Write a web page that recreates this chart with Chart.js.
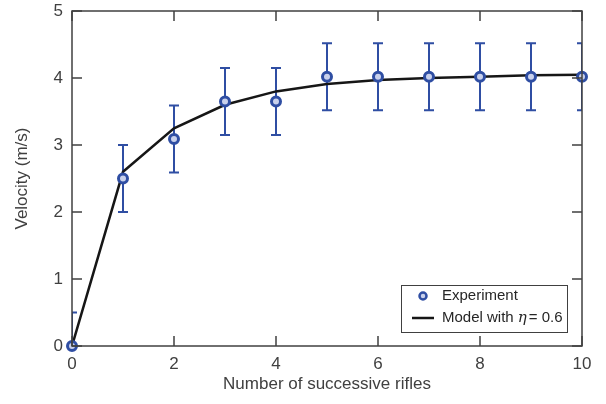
<!DOCTYPE html>
<html>
<head>
<meta charset="utf-8">
<script src="https://cdn.jsdelivr.net/npm/chart.js@4"></script>
<style>
  html, body { margin: 0; padding: 0; background: #fff; }
  #wrap { width: 606px; height: 404px; }
</style>
</head>
<body>
<div id="wrap"><canvas id="chart" width="606" height="404"></canvas></div>
<script>
const rifles = [0, 1, 2, 3, 4, 5, 6, 7, 8, 9, 10];
const velocity = [0, 2.5, 3.09, 3.65, 3.65, 4.02, 4.02, 4.02, 4.02, 4.02, 4.02];
const velocityErr = [0.5, 0.5, 0.5, 0.5, 0.5, 0.5, 0.5, 0.5, 0.5, 0.5, 0.5];
const model = [0, 2.6, 3.25, 3.6, 3.8, 3.91, 3.97, 4.0, 4.02, 4.04, 4.05];
const xTicks = [0, 2, 4, 6, 8, 10];
const yTicks = [0, 1, 2, 3, 4, 5];

const blue = '#2f4ea3';
const axisGrey = '#404040';
const FONT = '"Liberation Sans", Arial, sans-serif';

// error bars, clipped to the axes box like the original
const errorBars = {
  id: 'errorBars',
  beforeDatasetsDraw(chart) {
    const { ctx, chartArea: a, scales: { x, y } } = chart;
    ctx.save();
    ctx.beginPath();
    ctx.rect(a.left, a.top, a.right - a.left, a.bottom - a.top);
    ctx.clip();
    ctx.strokeStyle = blue;
    ctx.lineWidth = 2;
    rifles.forEach((r, i) => {
      const px = x.getPixelForValue(r);
      const lo = y.getPixelForValue(velocity[i] - velocityErr[i]);
      const hi = y.getPixelForValue(velocity[i] + velocityErr[i]);
      ctx.beginPath();
      ctx.moveTo(px, lo); ctx.lineTo(px, hi);
      ctx.moveTo(px - 5, lo); ctx.lineTo(px + 5, lo);
      ctx.moveTo(px - 5, hi); ctx.lineTo(px + 5, hi);
      ctx.stroke();
    });
    ctx.restore();
  }
};

// box around the axes with inward ticks on all sides
const frame = {
  id: 'frame',
  afterDatasetsDraw(chart) {
    const { ctx, chartArea: a, scales: { x, y } } = chart;
    const len = 10;
    ctx.save();
    ctx.strokeStyle = axisGrey;
    ctx.lineWidth = 1.5;
    ctx.strokeRect(a.left, a.top, a.right - a.left, a.bottom - a.top);
    ctx.beginPath();
    xTicks.forEach(t => {
      const px = x.getPixelForValue(t);
      ctx.moveTo(px, a.bottom); ctx.lineTo(px, a.bottom - len);
      ctx.moveTo(px, a.top); ctx.lineTo(px, a.top + len);
    });
    yTicks.forEach(t => {
      const py = y.getPixelForValue(t);
      ctx.moveTo(a.left, py); ctx.lineTo(a.left + len, py);
      ctx.moveTo(a.right, py); ctx.lineTo(a.right - len, py);
    });
    ctx.stroke();
    ctx.restore();
  }
};

const legendBox = {
  id: 'legendBox',
  afterDraw(chart) {
    const { ctx } = chart;
    const ds = chart.data.datasets;
    const bx = 401, by = 285, bw = 166, bh = 47;
    ctx.save();
    ctx.fillStyle = '#fff';
    ctx.fillRect(bx, by, bw, bh);
    ctx.strokeStyle = axisGrey;
    ctx.lineWidth = 1;
    ctx.strokeRect(bx + 0.5, by + 0.5, bw, bh);

    // experiment marker
    ctx.beginPath();
    ctx.arc(423, 296, 3.5, 0, Math.PI * 2);
    ctx.fillStyle = '#c9d1ec';
    ctx.fill();
    ctx.strokeStyle = blue;
    ctx.lineWidth = 2.5;
    ctx.stroke();

    // model line
    ctx.beginPath();
    ctx.moveTo(412, 318); ctx.lineTo(434, 318);
    ctx.strokeStyle = '#161616';
    ctx.lineWidth = 2.5;
    ctx.stroke();

    ctx.fillStyle = '#262626';
    ctx.textBaseline = 'middle';
    ctx.font = '15px ' + FONT;
    ctx.fillText(ds[0].label, 442, 296);
    const parts = ds[1].label.split('η');
    let tx = 442;
    ctx.fillText(parts[0], tx, 318);
    tx += ctx.measureText(parts[0]).width;
    ctx.font = 'italic 15px "DejaVu Serif", serif';
    ctx.fillText('η', tx, 318);
    tx += ctx.measureText('η').width + 2;
    ctx.font = '15px ' + FONT;
    ctx.fillText(parts[1], tx, 318);
    ctx.restore();
  }
};

new Chart(document.getElementById('chart'), {
  type: 'line',
  data: {
    datasets: [{
      label: 'Experiment',
      data: rifles.map((r, i) => ({ x: r, y: velocity[i] })),
      showLine: false,
      pointRadius: 4.5,
      pointBorderWidth: 3,
      pointBackgroundColor: '#c9d1ec',
      pointBorderColor: blue,
      clip: false,
      order: 0
    }, {
      label: 'Model with η= 0.6',
      data: rifles.map((r, i) => ({ x: r, y: model[i] })),
      borderColor: '#161616',
      borderWidth: 2.5,
      pointRadius: 0,
      tension: 0,
      fill: false,
      order: 1
    }]
  },
  options: {
    responsive: false,
    animation: false,
    layout: { padding: { top: 11, right: 24, left: 0, bottom: 0 } },
    plugins: { legend: { display: false }, tooltip: { enabled: false } },
    scales: {
      x: {
        type: 'linear',
        min: 0, max: 10,
        afterFit(s) { s.height = 58; s.paddingLeft = 0; s.paddingRight = 0; },
        afterBuildTicks(s) { s.ticks = xTicks.map(v => ({ value: v })); },
        grid: { display: false, drawTicks: false },
        border: { display: false },
        ticks: { padding: 8, color: axisGrey, font: { family: FONT, size: 17 } },
        title: {
          display: true, text: 'Number of successive rifles',
          color: axisGrey, font: { family: FONT, size: 17 },
          padding: { top: 0, bottom: 9 }
        }
      },
      y: {
        type: 'linear',
        min: 0, max: 5,
        afterFit(s) { s.width = 72; s.paddingTop = 0; s.paddingBottom = 0; },
        afterBuildTicks(s) { s.ticks = yTicks.map(v => ({ value: v })); },
        grid: { display: false, drawTicks: false },
        border: { display: false },
        ticks: { padding: 9, color: axisGrey, font: { family: FONT, size: 17 } },
        title: {
          display: true, text: 'Velocity (m/s)',
          color: axisGrey, font: { family: FONT, size: 17 },
          padding: { top: 12, bottom: 0 }
        }
      }
    }
  },
  plugins: [errorBars, frame, legendBox]
});
</script>
</body>
</html>
